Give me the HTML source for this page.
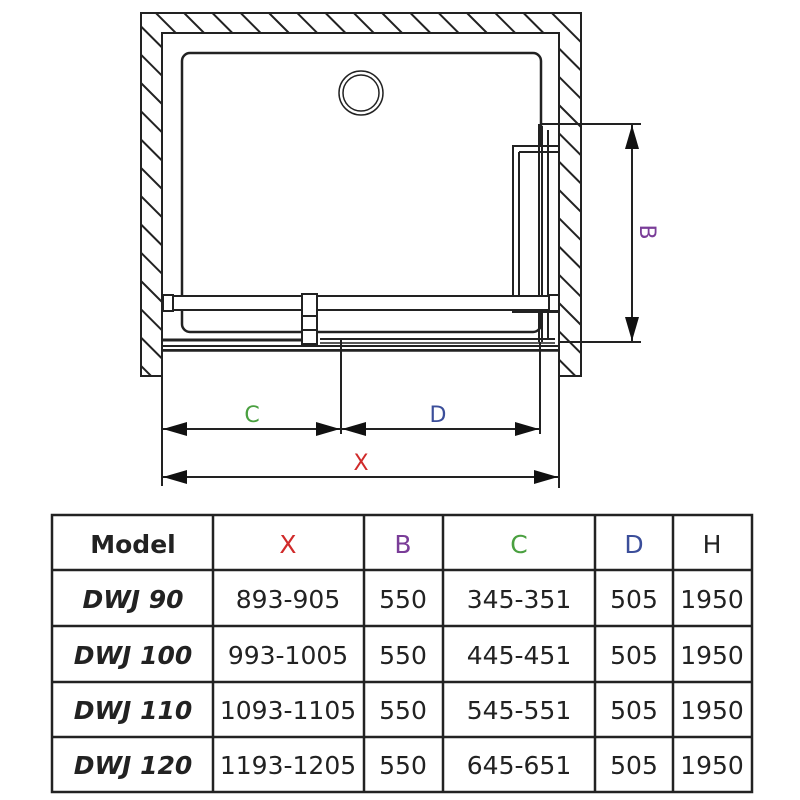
<!DOCTYPE html>
<html><head><meta charset="utf-8"><style>
html,body{margin:0;padding:0;background:#fff;width:800px;height:800px;overflow:hidden}
svg text{font-family:"DejaVu Sans","Liberation Sans",sans-serif}
</style></head><body>
<svg width="800" height="800" viewBox="0 0 800 800" xmlns="http://www.w3.org/2000/svg">
<defs>
<pattern id="h" patternUnits="userSpaceOnUse" width="20" height="20" patternTransform="rotate(-45)">
<rect width="20" height="20" fill="#fff"/><line x1="0" y1="0" x2="0" y2="20" stroke="#222" stroke-width="4"/>
</pattern>
<marker id="a" viewBox="0 0 24 14" refX="24" refY="7" markerWidth="24" markerHeight="14" markerUnits="userSpaceOnUse" orient="auto-start-reverse">
<path d="M0,0 L24,7 L0,14 Z" fill="#111"/></marker>
</defs>
<g stroke="#222" stroke-width="2" fill="none">
<path d="M141,13 H581 V376 H559 V33 H162 V376 H141 Z" fill="url(#h)"/>
<rect x="162" y="33" width="397" height="317" fill="#fff"/>
<rect x="182" y="53" width="359" height="279" rx="8" stroke-width="2.5"/>
<circle cx="361" cy="93" r="22" stroke-width="1.5"/>
<circle cx="361" cy="93" r="18" stroke-width="1.5"/>
<rect x="513" y="146" width="46" height="166" fill="#fff"/>
<line x1="519" y1="152" x2="519" y2="312"/>
<line x1="519" y1="152" x2="559" y2="152"/>
<line x1="539" y1="124" x2="539" y2="342"/>
<line x1="542" y1="126" x2="542" y2="342"/>
<line x1="548" y1="130" x2="548" y2="340"/>
<rect x="163" y="296" width="395" height="14" fill="#fff"/>
<rect x="163" y="295" width="10" height="16" fill="#fff"/>
<rect x="549" y="295" width="10" height="16" fill="#fff"/>
<rect x="302" y="294" width="15" height="22" fill="#fff"/>
<rect x="302" y="316" width="15" height="14" fill="#fff"/>
<rect x="302" y="330" width="15" height="14" fill="#fff"/>
<line x1="163" y1="340" x2="302" y2="340" stroke-width="3"/>
<line x1="320" y1="339" x2="555" y2="339" stroke-width="2"/>
<line x1="320" y1="343" x2="555" y2="343" stroke-width="1.5"/>
<line x1="163" y1="346" x2="558" y2="346" stroke-width="2"/>
<line x1="163" y1="351" x2="558" y2="351" stroke-width="1.5"/>
<line x1="162" y1="350" x2="162" y2="486"/>
<line x1="559" y1="350" x2="559" y2="488"/>
<line x1="341" y1="340" x2="341" y2="434"/>
<line x1="540" y1="342" x2="540" y2="434"/>
<line x1="541" y1="124" x2="641" y2="124"/>
<line x1="559" y1="342" x2="641" y2="342"/>
<line x1="163" y1="429" x2="340" y2="429" marker-start="url(#a)" marker-end="url(#a)"/>
<line x1="342" y1="429" x2="539" y2="429" marker-start="url(#a)" marker-end="url(#a)"/>
<line x1="163" y1="477" x2="558" y2="477" marker-start="url(#a)" marker-end="url(#a)"/>
<line x1="632" y1="125" x2="632" y2="341" marker-start="url(#a)" marker-end="url(#a)"/>
</g>
<g font-size="22" text-anchor="middle">
<text x="252" y="422" fill="#4aa040">C</text>
<text x="438" y="422" fill="#3b4e9a">D</text>
<text x="361" y="470" fill="#d02a2a">X</text>
<text x="0" y="0" fill="#7a3d98" transform="translate(640,232) rotate(90)">B</text>
</g>
<g stroke="#222" stroke-width="2.5" fill="none">
<rect x="52" y="515" width="700" height="277"/>
<line x1="52" y1="570" x2="752" y2="570"/>
<line x1="52" y1="626" x2="752" y2="626"/>
<line x1="52" y1="682" x2="752" y2="682"/>
<line x1="52" y1="737" x2="752" y2="737"/>
<line x1="213" y1="515" x2="213" y2="792"/>
<line x1="364" y1="515" x2="364" y2="792"/>
<line x1="443" y1="515" x2="443" y2="792"/>
<line x1="595" y1="515" x2="595" y2="792"/>
<line x1="673" y1="515" x2="673" y2="792"/>
</g>
<g font-size="25" text-anchor="middle" fill="#222">
<text x="133" y="553" font-weight="bold">Model</text>
<text x="288" y="553" fill="#d02a2a">X</text>
<text x="403" y="553" fill="#7a3d98">B</text>
<text x="519" y="553" fill="#4aa040">C</text>
<text x="634" y="553" fill="#3b4e9a">D</text>
<text x="712" y="553">H</text>
<g font-weight="bold" font-style="italic">
<text x="133" y="608">DWJ 90</text>
<text x="133" y="664">DWJ 100</text>
<text x="133" y="719">DWJ 110</text>
<text x="133" y="774">DWJ 120</text>
</g>
<text x="288" y="608">893-905</text>
<text x="288" y="664">993-1005</text>
<text x="288" y="719">1093-1105</text>
<text x="288" y="774">1193-1205</text>
<text x="403" y="608">550</text><text x="403" y="664">550</text><text x="403" y="719">550</text><text x="403" y="774">550</text>
<text x="519" y="608">345-351</text><text x="519" y="664">445-451</text><text x="519" y="719">545-551</text><text x="519" y="774">645-651</text>
<text x="634" y="608">505</text><text x="634" y="664">505</text><text x="634" y="719">505</text><text x="634" y="774">505</text>
<text x="712" y="608">1950</text><text x="712" y="664">1950</text><text x="712" y="719">1950</text><text x="712" y="774">1950</text>
</g>
</svg>
</body></html>
